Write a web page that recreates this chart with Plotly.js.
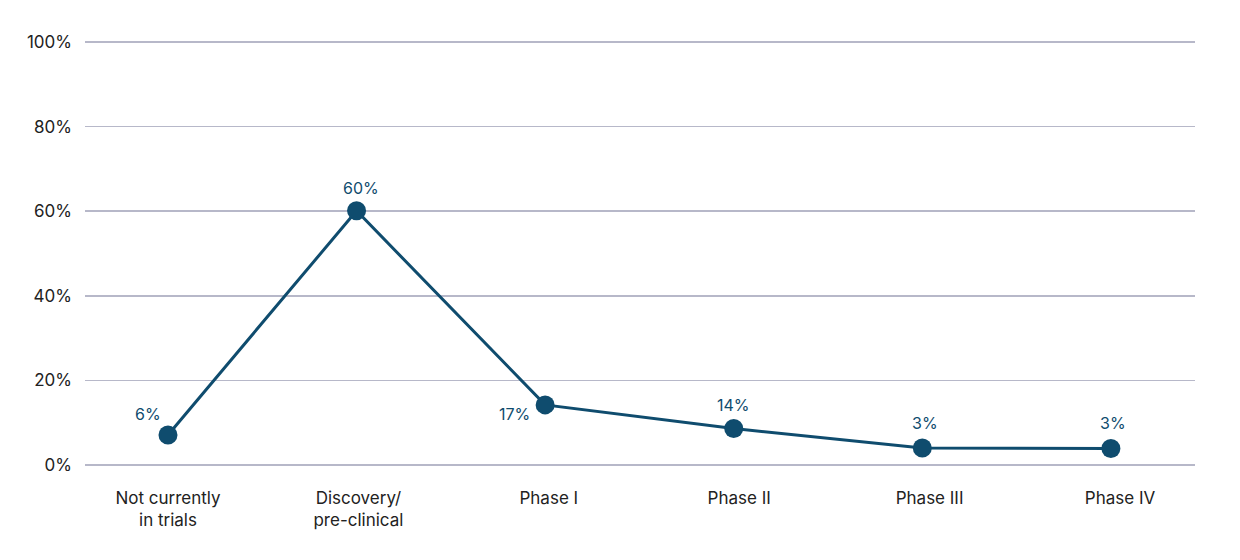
<!DOCTYPE html>
<html>
<head>
<meta charset="utf-8">
<script src="https://cdn.plot.ly/plotly-3.0.1.min.js"></script>
<style>html,body{margin:0;padding:0;background:#fff;}#chart{width:1240px;height:560px;}</style>
</head>
<body>
<div id="chart"></div>
<script>
const categories = ["Not currently<br>in trials", "Discovery/<br>pre-clinical", "Phase I", "Phase II", "Phase III", "Phase IV"];
const values = [7.1, 60.1, 14.2, 8.6, 4.0, 3.9];
const valueLabels = ["6%", "60%", "17%", "14%", "3%", "3%"];
const labelShiftX = [-20, 4, -31, 0, 3, 2];
const labelShiftY = [21, 23, -9, 24, 25, 25];
const yTicks = [0, 20, 40, 60, 80, 100];
const yTickLabels = ["0%", "20%", "40%", "60%", "80%", "100%"];

const color = "#0f4c6e";
const idx = categories.map((c, i) => i);

const trace = {
  x: idx,
  y: values,
  type: "scatter",
  mode: "lines+markers",
  line: {color: color, width: 3},
  marker: {color: color, size: 19},
  hoverinfo: "none"
};
const labelAxisTrace = {x: [], y: [], xaxis: "x2", yaxis: "y", type: "scatter", hoverinfo: "none"};

const annotations = idx.map(i => ({
  x: i, y: values[i], xref: "x", yref: "y",
  text: valueLabels[i], showarrow: false,
  xshift: labelShiftX[i], yshift: labelShiftY[i],
  font: {family: "Inter", size: 16, color: color}
}));

const tickFont = {family: "Inter", size: 17, color: "#222"};

const layout = {
  width: 1240, height: 560,
  margin: {l: 85, r: 45, t: 41, b: 94},
  paper_bgcolor: "#fff", plot_bgcolor: "#fff",
  showlegend: false,
  font: tickFont,
  xaxis: {
    range: [-0.44, 5.446],
    showticklabels: false,
    showgrid: false, zeroline: false, showline: false, ticks: ""
  },
  xaxis2: {
    overlaying: "x", side: "bottom",
    range: [-0.436, 5.394],
    tickmode: "array", tickvals: idx, ticktext: categories,
    showgrid: false, zeroline: false, showline: false,
    ticks: "", ticklabelstandoff: 20,
    tickfont: tickFont
  },
  yaxis: {
    range: [-0.25, 100.25],
    tickmode: "array", tickvals: yTicks, ticktext: yTickLabels,
    showgrid: true, gridcolor: "#b7b8c9", gridwidth: 1.5,
    zeroline: false, showline: false, ticks: "",
    ticklabelstandoff: 12,
    tickfont: tickFont
  },
  annotations: annotations
};

Plotly.newPlot("chart", [trace, labelAxisTrace], layout, {displayModeBar: false, staticPlot: true});
</script>
</body>
</html>
